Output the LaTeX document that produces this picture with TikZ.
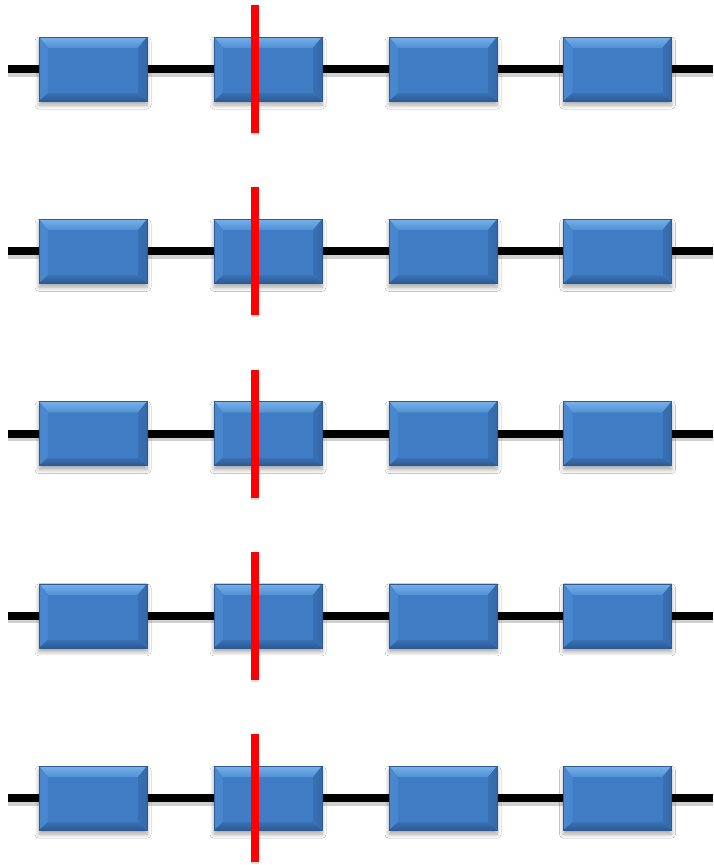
\documentclass[tikz,border=0pt]{standalone}
\usetikzlibrary{calc,shadows.blur}
\definecolor{boxmid}{RGB}{63,124,195}
\definecolor{boxtop}{RGB}{118,176,234}
\definecolor{boxtopb}{RGB}{80,143,212}
\definecolor{boxleft}{RGB}{72,135,205}
\definecolor{boxright}{RGB}{55,112,180}
\definecolor{boxbotup}{RGB}{57,113,180}
\definecolor{boxbot}{RGB}{44,90,148}
\definecolor{boxedge}{RGB}{46,90,145}
\tikzset{
  exon/.style={
    rectangle, minimum width=108pt, minimum height=64pt, inner sep=0pt,
    fill=boxmid, draw=boxedge, line width=0.6pt,
    blur shadow={shadow xshift=0pt, shadow yshift=-4pt, shadow blur steps=8, shadow opacity=35, shadow blur radius=4pt},
    path picture={
      \coordinate (nw) at (path picture bounding box.north west);
      \coordinate (ne) at (path picture bounding box.north east);
      \coordinate (sw) at (path picture bounding box.south west);
      \coordinate (se) at (path picture bounding box.south east);
      \coordinate (inw) at ([xshift=9pt,yshift=-11pt]nw);
      \coordinate (ine) at ([xshift=-9pt,yshift=-11pt]ne);
      \coordinate (isw) at ([xshift=9pt,yshift=8pt]sw);
      \coordinate (ise) at ([xshift=-9pt,yshift=8pt]se);
      \fill[top color=boxtop, bottom color=boxtopb] (nw) -- (ne) -- (ine) -- (inw) -- cycle;
      \fill[left color=boxleft!80!boxtopb, right color=boxleft] (nw) -- (inw) -- (isw) -- (sw) -- cycle;
      \fill[left color=boxright, right color=boxright!70!boxbot] (ne) -- (ine) -- (ise) -- (se) -- cycle;
      \fill[top color=boxbotup, bottom color=boxbot] (sw) -- (isw) -- (ise) -- (se) -- cycle;
      \fill[boxmid] (inw) -- (ine) -- (ise) -- (isw) -- cycle;
    }},
  strand/.style={line width=8pt, black},
  strandshadow/.style={line width=5pt, black!18},
  cutmark/.style={line width=8pt, red},
  cutshadow/.style={line width=8pt, black!12}
}
\begin{document}
\begin{tikzpicture}[x=1pt,y=-1pt]
  \useasboundingbox (0,0) rectangle (713,865);
  \fill[white] (0,0) rectangle (713,865);
  \foreach \r in {0,...,4}{
    \pgfmathsetmacro{\yc}{69+182.3*\r}
    % backbone line with its soft shadow
    \coordinate (l\r) at (8,\yc);
    \coordinate (r\r) at (713,\yc);
    \draw[strandshadow] ([yshift=-5pt]l\r) -- ([yshift=-5pt]r\r);
    \draw[strand] (l\r) -- (r\r);
    % four blocks on the line
    \node[exon] (b\r-1) at (93,\yc) {};
    \node[exon] (b\r-2) at (268,\yc) {};
    \node[exon] (b\r-3) at (443,\yc) {};
    \node[exon] (b\r-4) at (617.5,\yc) {};
    % red cut through the second block
    \coordinate (ct\r) at (255,\yc-64);
    \coordinate (cb\r) at (255,\yc+64);
    \draw[cutshadow] ([yshift=-2pt]ct\r) -- ([yshift=-2pt]cb\r);
    \draw[cutmark] (ct\r) -- (cb\r);
  }
\end{tikzpicture}
\end{document}
